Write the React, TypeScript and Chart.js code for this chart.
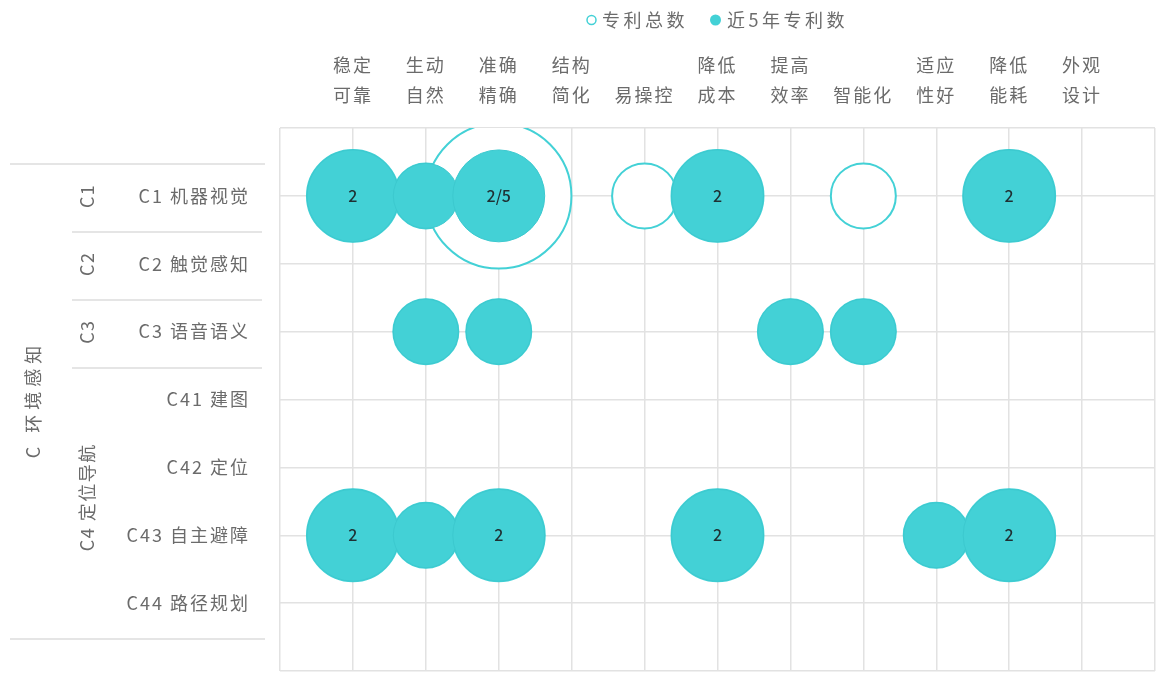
import React, { useEffect, useRef } from 'react';
import { Chart, registerables } from 'chart.js';

Chart.register(...registerables);

const FONT = '"Noto Sans CJK SC", "Noto Sans", sans-serif';
const TEXT_COLOR = '#6b6b6b';
const BUBBLE_COLOR = '#43d1d6';
const GRID_COLOR = '#e2e2e2';
const LETTER_SPACING = '2px';

// effect categories (top axis), two-line labels
const columnLabels: string[][] = [
  ['稳定', '可靠'],
  ['生动', '自然'],
  ['准确', '精确'],
  ['结构', '简化'],
  ['', '易操控'],
  ['降低', '成本'],
  ['提高', '效率'],
  ['', '智能化'],
  ['适应', '性好'],
  ['降低', '能耗'],
  ['外观', '设计'],
];

// technology rows (left axis)
const rowLabels: string[] = [
  'C1 机器视觉',
  'C2 触觉感知',
  'C3 语音语义',
  'C41 建图',
  'C42 定位',
  'C43 自主避障',
  'C44 路径规划',
];

const subGroups = [
  { label: 'C1', from: 0, to: 0 },
  { label: 'C2', from: 1, to: 1 },
  { label: 'C3', from: 2, to: 2 },
  { label: 'C4 定位导航', from: 3, to: 6 },
];
const topGroup = { label: 'C 环境感知', from: 0, to: 6 };

const legendLabels = ['专利总数', '近5年专利数'];

// [column index, row index, patent count]
const totalPatents: number[][] = [
  [0, 0, 2], [1, 0, 1], [2, 0, 5], [4, 0, 1], [5, 0, 2], [7, 0, 1], [9, 0, 2],
  [1, 2, 1], [2, 2, 1], [6, 2, 1], [7, 2, 1],
  [0, 5, 2], [1, 5, 1], [2, 5, 2], [5, 5, 2], [8, 5, 1], [9, 5, 2],
];
const recentPatents: number[][] = [
  [0, 0, 2], [1, 0, 1], [2, 0, 2], [5, 0, 2], [9, 0, 2],
  [1, 2, 1], [2, 2, 1], [6, 2, 1], [7, 2, 1],
  [0, 5, 2], [1, 5, 1], [2, 5, 2], [5, 5, 2], [8, 5, 1], [9, 5, 2],
];

const RADIUS_UNIT = 32.5;
const toBubble = (arr: number[][]) =>
  arr.map(([x, y, v]) => ({ x, y, r: RADIUS_UNIT * Math.sqrt(v), v }));

const totalFor = (x: number, y: number) => {
  const f = totalPatents.find((p) => p[0] === x && p[1] === y);
  return f ? f[2] : 0;
};

const spacingPlugin = {
  id: 'letterSpacing',
  beforeLayout(chart: any) {
    (chart.ctx as any).letterSpacing = LETTER_SPACING;
  },
  beforeDraw(chart: any) {
    (chart.ctx as any).letterSpacing = LETTER_SPACING;
  },
};

const labelPlugin = {
  id: 'bubbleLabels',
  afterDatasetsDraw(chart: any) {
    const ctx = chart.ctx;
    const meta = chart.getDatasetMeta(1);
    ctx.save();
    (ctx as any).letterSpacing = '0px';
    ctx.font = `500 16px ${FONT}`;
    ctx.fillStyle = '#1f3033';
    ctx.textAlign = 'center';
    ctx.textBaseline = 'middle';
    recentPatents.forEach((p, i) => {
      if (p[2] < 2) return;
      const el = meta.data[i];
      const tot = totalFor(p[0], p[1]);
      const txt = tot !== p[2] ? `${p[2]}/${tot}` : `${p[2]}`;
      ctx.fillText(txt, el.x, el.y);
    });
    ctx.restore();
  },
};

const groupPlugin = {
  id: 'groupLabels',
  afterDraw(chart: any) {
    const ctx = chart.ctx;
    const ys = chart.scales.y;
    const area = chart.chartArea;
    ctx.save();
    ctx.strokeStyle = '#dcdcdc';
    ctx.lineWidth = 1.5;
    const hline = (v: number, x0: number, x1: number) => {
      const py = Math.round(ys.getPixelForValue(v)) + 2;
      ctx.beginPath();
      ctx.moveTo(x0, py);
      ctx.lineTo(x1, py);
      ctx.stroke();
    };
    hline(topGroup.from - 0.5, 10, 265);
    hline(topGroup.to + 0.5, 10, 265);
    subGroups.slice(0, -1).forEach((g) => hline(g.to + 0.5, 72, 262));

    ctx.fillStyle = TEXT_COLOR;
    ctx.font = `18px ${FONT}`;
    ctx.textAlign = 'center';
    ctx.textBaseline = 'middle';
    const vtext = (txt: string, x: number, v0: number, v1: number, spacing: string, dy: number) => {
      const py = (ys.getPixelForValue(v0) + ys.getPixelForValue(v1)) / 2 + dy;
      ctx.save();
      (ctx as any).letterSpacing = spacing;
      ctx.translate(x, py);
      ctx.rotate(-Math.PI / 2);
      ctx.fillText(txt, 0, 0);
      ctx.restore();
    };
    subGroups.forEach((g) => vtext(g.label, 87, g.from, g.to, '1.5px', g.to > g.from ? -4 : 0));
    vtext(topGroup.label, 33, topGroup.from, topGroup.to, '5px', 0);

    // legend centred over the plot area
    (ctx as any).letterSpacing = '3.5px';
    ctx.font = `18px ${FONT}`;
    ctx.textAlign = 'left';
    const radii = [4.5, 5.5];
    const gapMarker = 6;
    const gapItem = 22;
    const widths = legendLabels.map((l, i) => ctx.measureText(l).width + radii[i] * 2 + gapMarker);
    const total = widths.reduce((a, b) => a + b, 0) + gapItem;
    let x = (area.left + area.right) / 2 - total / 2;
    const ly = 20;
    legendLabels.forEach((l, i) => {
      const r = radii[i];
      ctx.beginPath();
      ctx.arc(x + r, ly, r, 0, Math.PI * 2);
      if (i === 0) {
        ctx.fillStyle = '#ffffff';
        ctx.fill();
        ctx.strokeStyle = BUBBLE_COLOR;
        ctx.lineWidth = 1.5;
        ctx.stroke();
      } else {
        ctx.fillStyle = BUBBLE_COLOR;
        ctx.fill();
      }
      ctx.fillStyle = TEXT_COLOR;
      ctx.fillText(l, x + r * 2 + gapMarker, ly);
      x += widths[i] + gapItem;
    });
    ctx.restore();
  },
};

const range = (a: number, b: number) => {
  const out: { value: number }[] = [];
  for (let v = a; v <= b; v++) out.push({ value: v });
  return out;
};

export default function App() {
  const canvasRef = useRef<HTMLCanvasElement | null>(null);

  useEffect(() => {
    if (!canvasRef.current) return;
    const chart = new Chart(canvasRef.current, {
      type: 'bubble',
      data: {
        datasets: [
          {
            label: legendLabels[0],
            data: toBubble(totalPatents),
            backgroundColor: '#ffffff',
            borderColor: BUBBLE_COLOR,
            borderWidth: 2,
            order: 2,
          },
          {
            label: legendLabels[1],
            data: toBubble(recentPatents),
            backgroundColor: BUBBLE_COLOR,
            borderColor: '#3cc9cf',
            borderWidth: 1,
            order: 1,
          },
        ],
      },
      options: {
        responsive: false,
        animation: false,
        layout: { autoPadding: false, padding: { top: 0, left: 0, right: 7, bottom: 17 } },
        plugins: {
          legend: { display: false },
          tooltip: { enabled: false },
        },
        scales: {
          x: {
            type: 'linear',
            position: 'top',
            min: -1,
            max: columnLabels.length,
            afterBuildTicks: (s: any) => {
              s.ticks = range(-1, columnLabels.length);
            },
            afterFit: (s: any) => {
              s.height = 128;
              s.paddingLeft = 0;
              s.paddingRight = 0;
            },
            grid: { color: GRID_COLOR, lineWidth: 1.5, drawTicks: false },
            border: { display: false },
            ticks: {
              autoSkip: false,
              maxRotation: 0,
              padding: 18,
              color: TEXT_COLOR,
              font: { family: FONT, size: 18, lineHeight: 1.65 },
              callback: (v: any) => columnLabels[v] ?? '',
            },
          },
          y: {
            type: 'linear',
            reverse: true,
            min: -1,
            max: rowLabels.length,
            afterBuildTicks: (s: any) => {
              s.ticks = range(-1, rowLabels.length);
            },
            afterFit: (s: any) => {
              s.width = 280;
              s.paddingTop = 0;
              s.paddingBottom = 0;
            },
            grid: { color: GRID_COLOR, lineWidth: 1.5, drawTicks: false },
            border: { display: false },
            ticks: {
              autoSkip: false,
              padding: 30,
              color: TEXT_COLOR,
              font: { family: FONT, size: 18 },
              callback: (v: any) => rowLabels[v] ?? '',
            },
          },
        },
      },
      plugins: [spacingPlugin, labelPlugin, groupPlugin],
    } as any);
    return () => chart.destroy();
  }, []);

  return (
    <div style={{ position: 'absolute', left: 0, top: 0, width: 1162, height: 688, background: '#ffffff' }}>
      <canvas ref={canvasRef} width={1162} height={688} />
    </div>
  );
}
